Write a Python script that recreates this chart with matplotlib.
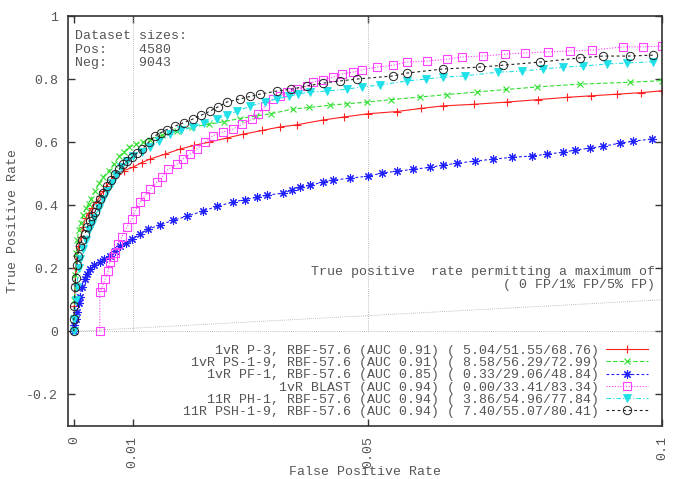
import matplotlib
matplotlib.use('Agg')
import matplotlib.pyplot as plt

plt.rcParams['font.family'] = ['Liberation Mono', 'DejaVu Sans Mono']
plt.rcParams['font.size'] = 9.5

# ROC curves (FPR, TPR)
red_x = [0, 0.0001, 0.0002, 0.0003, 0.0005, 0.0008, 0.0012, 0.0015, 0.002, 0.0025, 0.003, 0.0038, 0.0045, 0.005,
         0.0055, 0.0063, 0.0073, 0.0085, 0.01, 0.0115, 0.0129, 0.0155, 0.018, 0.0205, 0.023, 0.026, 0.0287, 0.032,
         0.035, 0.0379, 0.0423, 0.046, 0.05, 0.0549, 0.059, 0.0628, 0.068, 0.0736, 0.079, 0.0838, 0.088, 0.0923,
         0.0965, 0.1]
red_y = [0, 0.08, 0.15, 0.2, 0.24, 0.27, 0.30, 0.33, 0.36, 0.375, 0.39, 0.41, 0.43, 0.445, 0.46, 0.48, 0.50, 0.51,
         0.52, 0.535, 0.546, 0.562, 0.578, 0.59, 0.60, 0.613, 0.625, 0.637, 0.648, 0.655, 0.67, 0.68, 0.69, 0.697,
         0.707, 0.715, 0.72, 0.727, 0.735, 0.742, 0.747, 0.752, 0.757, 0.763]

green_x = [0, 0.0001, 0.0002, 0.0004, 0.0006, 0.0008, 0.0012, 0.0016, 0.002, 0.0025, 0.0029, 0.0036, 0.0043, 0.005,
           0.006, 0.0068, 0.0077, 0.0086, 0.0094, 0.0105, 0.0117, 0.0129, 0.015, 0.0175, 0.02, 0.023, 0.0255, 0.0282,
           0.031, 0.0335, 0.0372, 0.04, 0.0435, 0.0465, 0.0498, 0.054, 0.0588, 0.0635, 0.0685, 0.0735, 0.0787, 0.086,
           0.0946, 0.1]
green_y = [0, 0.1, 0.18, 0.25, 0.29, 0.32, 0.345, 0.37, 0.39, 0.405, 0.42, 0.445, 0.47, 0.49, 0.51, 0.53, 0.555, 0.57,
           0.585, 0.593, 0.601, 0.608, 0.622, 0.635, 0.647, 0.657, 0.665, 0.675, 0.683, 0.69, 0.705, 0.71, 0.717, 0.722,
           0.727, 0.735, 0.743, 0.751, 0.759, 0.767, 0.775, 0.784, 0.79, 0.795]

blue_x = [0, 0.0001, 0.0003, 0.0005, 0.0008, 0.001, 0.0014, 0.0019, 0.0023, 0.0027, 0.0035, 0.0044, 0.0052, 0.0061,
          0.007, 0.0078, 0.0088, 0.0099, 0.0112, 0.0126, 0.0146, 0.0168, 0.0192, 0.0219, 0.0243, 0.027, 0.0291,
          0.0311, 0.0328, 0.0355, 0.0371, 0.0384, 0.0401, 0.0423, 0.044, 0.0469, 0.05, 0.0524, 0.0549, 0.0577,
          0.0605, 0.0628, 0.0651, 0.0682, 0.0713, 0.0745, 0.0779, 0.0804, 0.0832, 0.0852, 0.0878, 0.09, 0.0929,
          0.0951, 0.0983]
blue_y = [0, 0.02, 0.04, 0.06, 0.09, 0.11, 0.14, 0.165, 0.183, 0.197, 0.21, 0.22, 0.23, 0.24, 0.255, 0.27, 0.28,
          0.292, 0.308, 0.324, 0.337, 0.352, 0.365, 0.381, 0.396, 0.41, 0.418, 0.425, 0.432, 0.438, 0.448, 0.457,
          0.463, 0.473, 0.479, 0.486, 0.492, 0.502, 0.508, 0.514, 0.52, 0.527, 0.533, 0.54, 0.546, 0.552, 0.556,
          0.562, 0.568, 0.575, 0.581, 0.587, 0.597, 0.603, 0.61]

magenta_x = [0.0044, 0.0044, 0.0048, 0.0053, 0.0058, 0.0061, 0.0066, 0.007, 0.0075, 0.0082, 0.009, 0.0099, 0.0104,
             0.0112, 0.0121, 0.0129, 0.0141, 0.015, 0.016, 0.0175, 0.0185, 0.0197, 0.0209, 0.0223, 0.0236, 0.0253,
             0.027, 0.0286, 0.0303, 0.0313, 0.0325, 0.0338, 0.035, 0.0362, 0.0379, 0.0396, 0.0406, 0.0423, 0.044,
             0.0456, 0.0474, 0.049, 0.0515, 0.0543, 0.0566, 0.06, 0.0634, 0.066, 0.0696, 0.0733, 0.0767, 0.0806,
             0.0844, 0.0881, 0.0934, 0.0968, 0.1]
magenta_y = [0, 0.124, 0.14, 0.165, 0.19, 0.22, 0.235, 0.25, 0.276, 0.30, 0.33, 0.356, 0.381, 0.41, 0.43, 0.45,
             0.473, 0.49, 0.514, 0.53, 0.546, 0.562, 0.578, 0.60, 0.62, 0.632, 0.641, 0.657, 0.673, 0.689, 0.715,
             0.737, 0.746, 0.759, 0.768, 0.778, 0.79, 0.797, 0.806, 0.816, 0.822, 0.829, 0.838, 0.844, 0.854, 0.857,
             0.863, 0.87, 0.873, 0.879, 0.883, 0.886, 0.889, 0.892, 0.902, 0.902, 0.905]

cyan_x = [0, 0.0001, 0.0003, 0.0005, 0.0008, 0.0011, 0.0015, 0.002, 0.0025, 0.003, 0.0035, 0.0042, 0.005, 0.0057,
          0.0065, 0.0072, 0.008, 0.009, 0.01, 0.0115, 0.0129, 0.0145, 0.0163, 0.0182, 0.0202, 0.0222, 0.0243, 0.026,
          0.0277, 0.0299, 0.0325, 0.0345, 0.0365, 0.0381, 0.0401, 0.043, 0.0464, 0.049, 0.052, 0.0566, 0.0598,
          0.0628, 0.0665, 0.0721, 0.0762, 0.0798, 0.0832, 0.0866, 0.0906, 0.094, 0.0985]
cyan_y = [0, 0.04, 0.1, 0.14, 0.2, 0.23, 0.26, 0.29, 0.32, 0.34, 0.36, 0.39, 0.42, 0.445, 0.47, 0.495, 0.52, 0.54,
          0.555, 0.57, 0.584, 0.605, 0.625, 0.637, 0.648, 0.66, 0.673, 0.686, 0.698, 0.714, 0.727, 0.737, 0.745,
          0.752, 0.759, 0.762, 0.768, 0.775, 0.781, 0.794, 0.80, 0.806, 0.81, 0.822, 0.825, 0.832, 0.838, 0.841,
          0.848, 0.851, 0.855]

black_x = [0, 0, 0.0001, 0.0002, 0.0003, 0.0005, 0.0007, 0.001, 0.0014, 0.0019, 0.0023, 0.0027, 0.0031, 0.0036,
           0.004, 0.0044, 0.005, 0.0056, 0.0063, 0.007, 0.0077, 0.0083, 0.0091, 0.0099, 0.0107, 0.0116, 0.0127,
           0.0138, 0.0148, 0.0158, 0.0172, 0.0187, 0.0202, 0.0216, 0.0231, 0.0245, 0.026, 0.0282, 0.03, 0.0316,
           0.0345, 0.037, 0.0396, 0.0423, 0.0452, 0.0481, 0.0543, 0.0566, 0.0628, 0.069, 0.073, 0.0793, 0.086, 0.09,
           0.0946, 0.0985]
black_y = [0, 0.04, 0.08, 0.14, 0.17, 0.21, 0.24, 0.27, 0.29, 0.31, 0.33, 0.35, 0.365, 0.38, 0.40, 0.42, 0.44, 0.46,
           0.48, 0.50, 0.515, 0.53, 0.541, 0.552, 0.565, 0.578, 0.599, 0.62, 0.63, 0.64, 0.651, 0.662, 0.673, 0.685,
           0.698, 0.712, 0.727, 0.737, 0.745, 0.752, 0.762, 0.768, 0.778, 0.787, 0.794, 0.80, 0.81, 0.819, 0.832,
           0.838, 0.844, 0.854, 0.867, 0.873, 0.873, 0.876]

labels = [
    '1vR P-3, RBF-57.6 (AUC 0.91) ( 5.04/51.55/68.76)',
    '1vR PS-1-9, RBF-57.6 (AUC 0.91) ( 8.58/56.29/72.99)',
    '1vR PF-1, RBF-57.6 (AUC 0.85) ( 0.33/29.06/48.84)',
    '1vR BLAST (AUC 0.94) ( 0.00/33.41/83.34)',
    '11R PH-1, RBF-57.6 (AUC 0.94) ( 3.86/54.96/77.84)',
    '11R PSH-1-9, RBF-57.6 (AUC 0.94) ( 7.40/55.07/80.41)',
]

txt = '#555555'
fig = plt.figure(figsize=(6.85, 4.79), dpi=100)
ax = fig.add_axes([68 / 685, 1 - 426 / 479, 594 / 685, 410 / 479])

grey = '#a8a8a8'
# reference lines: random classifier, 0 / 1% / 5% FP markers
ax.plot([0, 0.1], [0, 0.1], color=grey, lw=0.6, ls=(0, (1, 1.5)))
ax.plot([0, 0.1], [0, 0], color=grey, lw=0.6, ls=(0, (1, 1.5)))
ax.plot([0.01, 0.01], [0, 1], color=grey, lw=0.6, ls=(0, (1, 1.5)))
ax.plot([0.05, 0.05], [0, 1], color=grey, lw=0.6, ls=(0, (1, 1.5)))

lw = 0.8
ax.plot(red_x, red_y, color='#ff2020', lw=lw, ls='-', marker='+', ms=6, mew=0.8, label=labels[0])
ax.plot(green_x, green_y, color='#30e030', lw=lw, ls=(0, (4, 2)), marker='x', ms=5, mew=0.8, label=labels[1])
ax.plot(blue_x, blue_y, color='#2020ff', lw=lw, ls=(0, (2.5, 2)), marker=(8, 2, 0), ms=6, mew=0.8, label=labels[2])
ax.plot(magenta_x, magenta_y, color='#ff40ff', lw=lw, ls=(0, (1, 1.5)), marker='s', ms=6, mew=0.8,
        mfc='none', label=labels[3])
ax.plot(cyan_x, cyan_y, color='#20e0e8', lw=lw, ls=(0, (4, 2, 1, 2)), marker='v', ms=5.5, mew=0.6,
        label=labels[4])
ax.plot(black_x, black_y, color='#222222', lw=lw, ls=(0, (2.5, 2.5)), marker='o', ms=6, mew=0.7,
        mfc='none', label=labels[5])

ax.set_xlim(-0.001, 0.1)
ax.set_ylim(-0.3, 1.0)
ax.set_xticks([0, 0.01, 0.05, 0.1])
ax.set_xticklabels(['0', '0.01', '0.05', '0.1'], rotation=90)
ax.set_yticks([-0.2, 0, 0.2, 0.4, 0.6, 0.8, 1])
ax.set_yticklabels(['-0.2', '0', '0.2', '0.4', '0.6', '0.8', '1'])
ax.tick_params(direction='in', length=5, width=1, top=True, right=True, colors='#333333',
               labelcolor=txt, pad=7)
for s in ax.spines.values():
    s.set_linewidth(1.2)
    s.set_color('#333333')

ax.set_xlabel('False Positive Rate', color=txt, labelpad=-1)
ax.set_ylabel('True Positive Rate', color=txt, labelpad=5)

ax.text(0.012, 0.965, 'Dataset sizes:\nPos:    4580\nNeg:    9043', transform=ax.transAxes,
        ha='left', va='top', color=txt, linespacing=1.15)
ax.text(0.988, 0.39, 'True positive  rate permitting a maximum of\n( 0 FP/1% FP/5% FP)',
        transform=ax.transAxes, ha='right', va='top', color=txt, multialignment='right',
        linespacing=1.05)

leg = ax.legend(loc='lower right', bbox_to_anchor=(0.992, -0.003), frameon=False, markerfirst=False,
                handlelength=3.2, handletextpad=0.5, labelspacing=0.0, borderpad=0.2)
for t in leg.get_texts():
    t.set_color(txt)

fig.savefig('out.png', dpi=100)
